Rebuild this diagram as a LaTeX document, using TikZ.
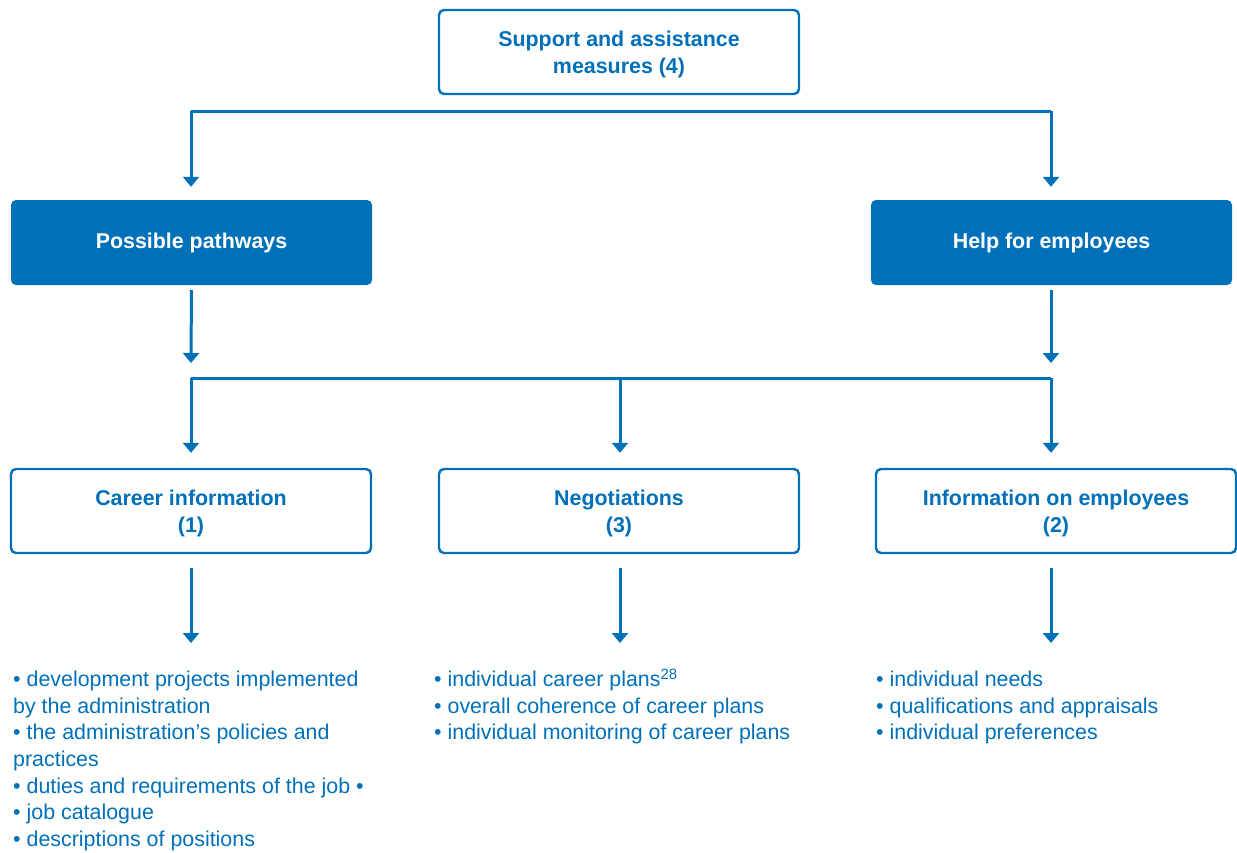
\documentclass[tikz,border=0pt]{standalone}
\usepackage{fontspec}
\setmainfont{Liberation Sans}
\usetikzlibrary{arrows.meta}
\definecolor{ublue}{RGB}{0,112,185}
\begin{document}
\begin{tikzpicture}[x=1pt,y=-1pt,
  every node/.style={font=\fontsize{21.4}{26.6}\selectfont, text=ublue},
  outlinebox/.style={draw=ublue, line width=2.4pt, rounded corners=5pt, fill=white,
    minimum width=360pt, minimum height=84pt, align=center, text depth=0pt,
    font=\fontsize{21.4}{26.6}\selectfont\bfseries},
  solidbox/.style={fill=ublue, rounded corners=5pt, text=white,
    minimum width=361pt, minimum height=85pt, align=center,
    font=\fontsize{21.4}{26.6}\selectfont\bfseries},
  wire/.style={draw=ublue, line width=3pt},
  arrow/.style={wire, -{Triangle[width=16pt,length=10pt]}},
  listtext/.style={align=left, anchor=north west, inner sep=0pt}
]
\useasboundingbox (0,0) rectangle (1237,852);

% boxes
\node[outlinebox] (top) at (619,52) {Support and assistance\\measures (4)};
\node[solidbox] (pp) at (191.5,242.5) {Possible pathways};
\node[solidbox] (he) at (1051.5,242.5) {Help for employees};
\node[outlinebox] (ci) at (191,511) {Career information\\(1)};
\node[outlinebox] (ng) at (619,511) {Negotiations\\(3)};
\node[outlinebox] (ie) at (1056,511) {Information on employees\\(2)};

% bus lines
\coordinate (b1L) at (191,111);
\coordinate (b1R) at (1051,111);
\coordinate (b2L) at (191,378);
\coordinate (b2M) at (620,378);
\coordinate (b2R) at (1051,378);

\draw[wire] (b1L) -- (b1R);
\draw[arrow, shorten >=13pt] (b1L) -- (b1L |- pp.north);
\draw[arrow, shorten >=13pt] (b1R) -- (b1R |- he.north);

\draw[arrow, shorten <=5pt] (pp.south) -- ([yshift=15pt]b2L);
\draw[arrow, shorten <=5pt] (b1R |- he.south) -- ([yshift=15pt]b2R);

\draw[wire] (b2L) -- (b2R);
\draw[arrow, shorten >=15pt] (b2L) -- (b2L |- ci.north);
\draw[arrow, shorten >=15pt] (b2M) -- (b2M |- ng.north);
\draw[arrow, shorten >=15pt] (b2R) -- (b2R |- ie.north);

% lists
\node[listtext] (l1) at (13,671) {%
\textbullet\ development projects implemented\\
by the administration\\
\textbullet\ the administration’s policies and\\
practices\\
\textbullet\ duties and requirements of the job \textbullet\\
\textbullet\ job catalogue\\
\textbullet\ descriptions of positions};
\node[listtext] (l2) at (434,671) {%
\textbullet\ individual career plans\smash{\textsuperscript{28}}\\
\textbullet\ overall coherence of career plans\\
\textbullet\ individual monitoring of career plans};
\node[listtext] (l3) at (876,671) {%
\textbullet\ individual needs\\
\textbullet\ qualifications and appraisals\\
\textbullet\ individual preferences};

\draw[arrow, shorten <=14pt, shorten >=28pt] (ci.south) -- (ci.south |- l1.north);
\draw[arrow, shorten <=14pt, shorten >=28pt] (b2M |- ng.south) -- (b2M |- l2.north);
\draw[arrow, shorten <=14pt, shorten >=28pt] (b2R |- ie.south) -- (b2R |- l3.north);
\end{tikzpicture}
\end{document}
